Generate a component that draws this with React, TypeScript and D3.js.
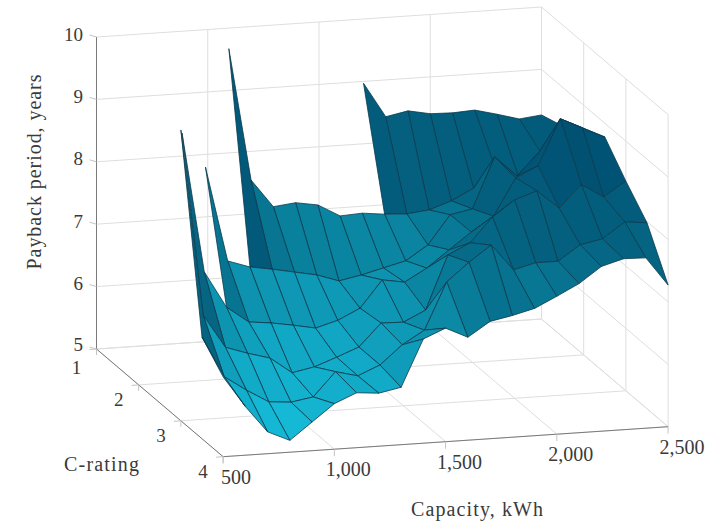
import React from 'react';
import * as d3 from 'd3';

const capacities = d3.range(500, 2501, 100);
const cRatings = [1, 1.5, 2, 2.5, 3, 3.5, 4];
const _ = null;

// payback period, one row per C-rating; null where the sizing was not feasible
const row10 = [_, _, _, _, _, _, _, _, _, _, _, _, 8.97, 8.41, 8.48, 8.41, 8.40, 8.42, 8.33, 8.23, 8.27];
const row15 = [_, _, _, _, _, 9.98, 7.85, 7.40, 7.44, 7.38, 7.18, 7.20, 7.16, 7.14, 7.18, 7.30, 7.48, 7.75, 7.63, 7.99, 8.38];
const row20 = [_, _, _, 8.42, 6.89, 6.77, 6.71, 6.64, 6.57, 6.45, 6.52, 6.61, 6.70, 6.93, 7.39, 7.46, 8.27, 7.94, 8.30, 8.80, 8.52];
const row25 = [_, 9.30, 7.05, 6.46, 6.20, 6.16, 6.10, 6.03, 6.13, 6.30, 6.73, 6.67, 6.87, 7.14, 7.40, 7.63, 8.22, 8.39, 9.12, 8.95, 8.78];
const row30 = [9.66, 6.67, 6.13, 6.01, 5.91, 5.65, 5.72, 5.85, 5.99, 6.35, 6.34, 6.51, 7.37, 7.54, 7.93, 8.18, 8.30, 8.00, 8.35, 8.13, 8.36];
const row35 = [6.63, 5.97, 5.73, 5.52, 5.49, 5.55, 5.93, 5.84, 5.99, 6.29, 6.50, 7.25, 7.54, 7.79, 7.37, 7.46, 7.46, 7.70, 7.77, 8.02, 7.98];
const row40 = [6.28, 5.78, 5.35, 5.19, 5.46, 5.73, 5.88, 5.85, 5.92, 6.67, 6.82, 6.65, 6.88, 6.95, 7.04, 7.21, 7.39, 7.64, 7.74, 7.73, 7.27];
const rows = [row10, row15, row20, row25, row30, row35, row40];

const xTicks = [500, 1000, 1500, 2000, 2500];
const cTicks = [1, 2, 3, 4];
const zTicks = [5, 6, 7, 8, 9, 10];

// axonometric view: every data axis adds its own screen offset
const xToSx = d3.scaleLinear().domain([500, 2500]).range([0, 445]);
const xToSy = d3.scaleLinear().domain([500, 2500]).range([0, -30]);
const cToSx = d3.scaleLinear().domain([1, 4]).range([0, 126.6]);
const cToSy = d3.scaleLinear().domain([1, 4]).range([0, 107.7]);
const zToSy = d3.scaleLinear().domain([5, 10]).range([0, -312]);
const origin = [96.5, 349];

const project = (x: number, c: number, z: number): [number, number] => [
  origin[0] + xToSx(x) + cToSx(c),
  origin[1] + xToSy(x) + cToSy(c) + zToSy(z),
];

const color = d3.scaleLinear<string>()
  .domain([5.2, 5.7, 6.2, 6.8, 7.3, 7.8, 8.3, 9, 10])
  .range(['#16bedb', '#12aecb', '#0f9dbb', '#0b8aa6', '#077390', '#04617f', '#025879', '#004b6e', '#003b5c'])
  .clamp(true);

const line = d3.line();
const GRID = '#dedede';
const AXIS = '#7a7a7a';
const TICK = '#c4c4c4';
const FONT = '"Liberation Serif", serif';

const labelProps = { fontFamily: FONT, fontSize: 20, fill: '#3a3a3a', textAnchor: 'middle' as const, dominantBaseline: 'central' as const };

export default function App() {
  const gridLines: [number, number][][] = [];
  const [xMin, xMax] = [500, 2500];
  const [cMin, cMax] = [1, 4];
  zTicks.forEach((z) => {
    gridLines.push([project(xMin, cMin, z), project(xMax, cMin, z)]);
    gridLines.push([project(xMax, cMin, z), project(xMax, cMax, z)]);
  });
  xTicks.forEach((x) => {
    gridLines.push([project(x, cMin, 5), project(x, cMin, 10)]);
    gridLines.push([project(x, cMin, 5), project(x, cMax, 5)]);
  });
  cTicks.forEach((c) => {
    gridLines.push([project(xMax, c, 5), project(xMax, c, 10)]);
    gridLines.push([project(xMin, c, 5), project(xMax, c, 5)]);
  });

  // painter's order: far rows first, right to left inside a row
  const cells: { d: string; fill: string; key: string }[] = [];
  for (let j = 0; j < cRatings.length - 1; j++) {
    for (let i = capacities.length - 2; i >= 0; i--) {
      const corners = [[i, j], [i + 1, j], [i + 1, j + 1], [i, j + 1]];
      if (corners.some(([a, b]) => rows[b][a] === null)) continue;
      const pts = corners.map(([a, b]) => project(capacities[a], cRatings[b], rows[b][a] as number));
      const vals = corners.map(([a, b]) => rows[b][a] as number);
      // spikes read darker than their plain mean, so lean a bit towards the max
      const shade = 0.75 * (d3.mean(vals) as number) + 0.25 * (d3.max(vals) as number);
      cells.push({ d: line(pts) + 'Z', fill: color(shade - 0.1), key: `${i}-${j}` });
    }
  }

  return (
    <svg width={726} height={524} style={{ position: 'absolute', left: 0, top: 0, background: '#fff' }}>
      {gridLines.map((g, i) => (
        <path key={i} d={line(g) as string} stroke={GRID} strokeWidth={1} fill="none" />
      ))}
      <path
        d={line([project(xMin, cMin, 10), project(xMin, cMin, 5), project(xMin, cMax, 5), project(xMax, cMax, 5)]) as string}
        stroke={AXIS}
        strokeWidth={1}
        fill="none"
      />
      {zTicks.map((z) => {
        const [px, py] = project(xMin, cMin, z);
        return <line key={z} x1={px - 7} x2={px} y1={py - 2} y2={py} stroke={TICK} />;
      })}
      {cTicks.map((c) => {
        const [px, py] = project(xMin, c, 5);
        return (
          <g key={c}>
            <line x1={px - 7} x2={px} y1={py + 0.5} y2={py} stroke={TICK} />
            <line x1={px} x2={px} y1={py} y2={py + 6} stroke={TICK} />
          </g>
        );
      })}
      {xTicks.map((x) => {
        const [px, py] = project(x, cMax, 5);
        return <line key={x} x1={px} x2={px} y1={py} y2={py + 7} stroke={TICK} />;
      })}
      {cells.map((c) => (
        <path key={c.key} d={c.d} fill={c.fill} stroke="#0b3a4c" strokeWidth={0.8} strokeLinejoin="round" />
      ))}
      {zTicks.map((z) => (
        <text key={z} {...labelProps} fontSize={19} textAnchor="end" x={83} y={project(xMin, cMin, z)[1] - (z === 5 ? 5 : 3)}>{z}</text>
      ))}
      {cTicks.map((c) => {
        const [px, py] = project(xMin, c, 5);
        return <text key={c} {...labelProps} fontSize={19} x={px - 20} y={py + (c === 1 ? 18 : 15)}>{c}</text>;
      })}
      {xTicks.map((x) => {
        const [px, py] = project(x, cMax, 5);
        return <text key={x} {...labelProps} x={px + (x === 500 ? 13 : 14)} y={py + 20}>{d3.format(',')(x)}</text>;
      })}
      <text {...labelProps} x={477} y={509} textLength={132}>Capacity, kWh</text>
      <text {...labelProps} x={101.5} y={464} textLength={75}>C-rating</text>
      <text {...labelProps} transform="translate(34,172) rotate(-90)" textLength={195}>Payback period, years</text>
    </svg>
  );
}
